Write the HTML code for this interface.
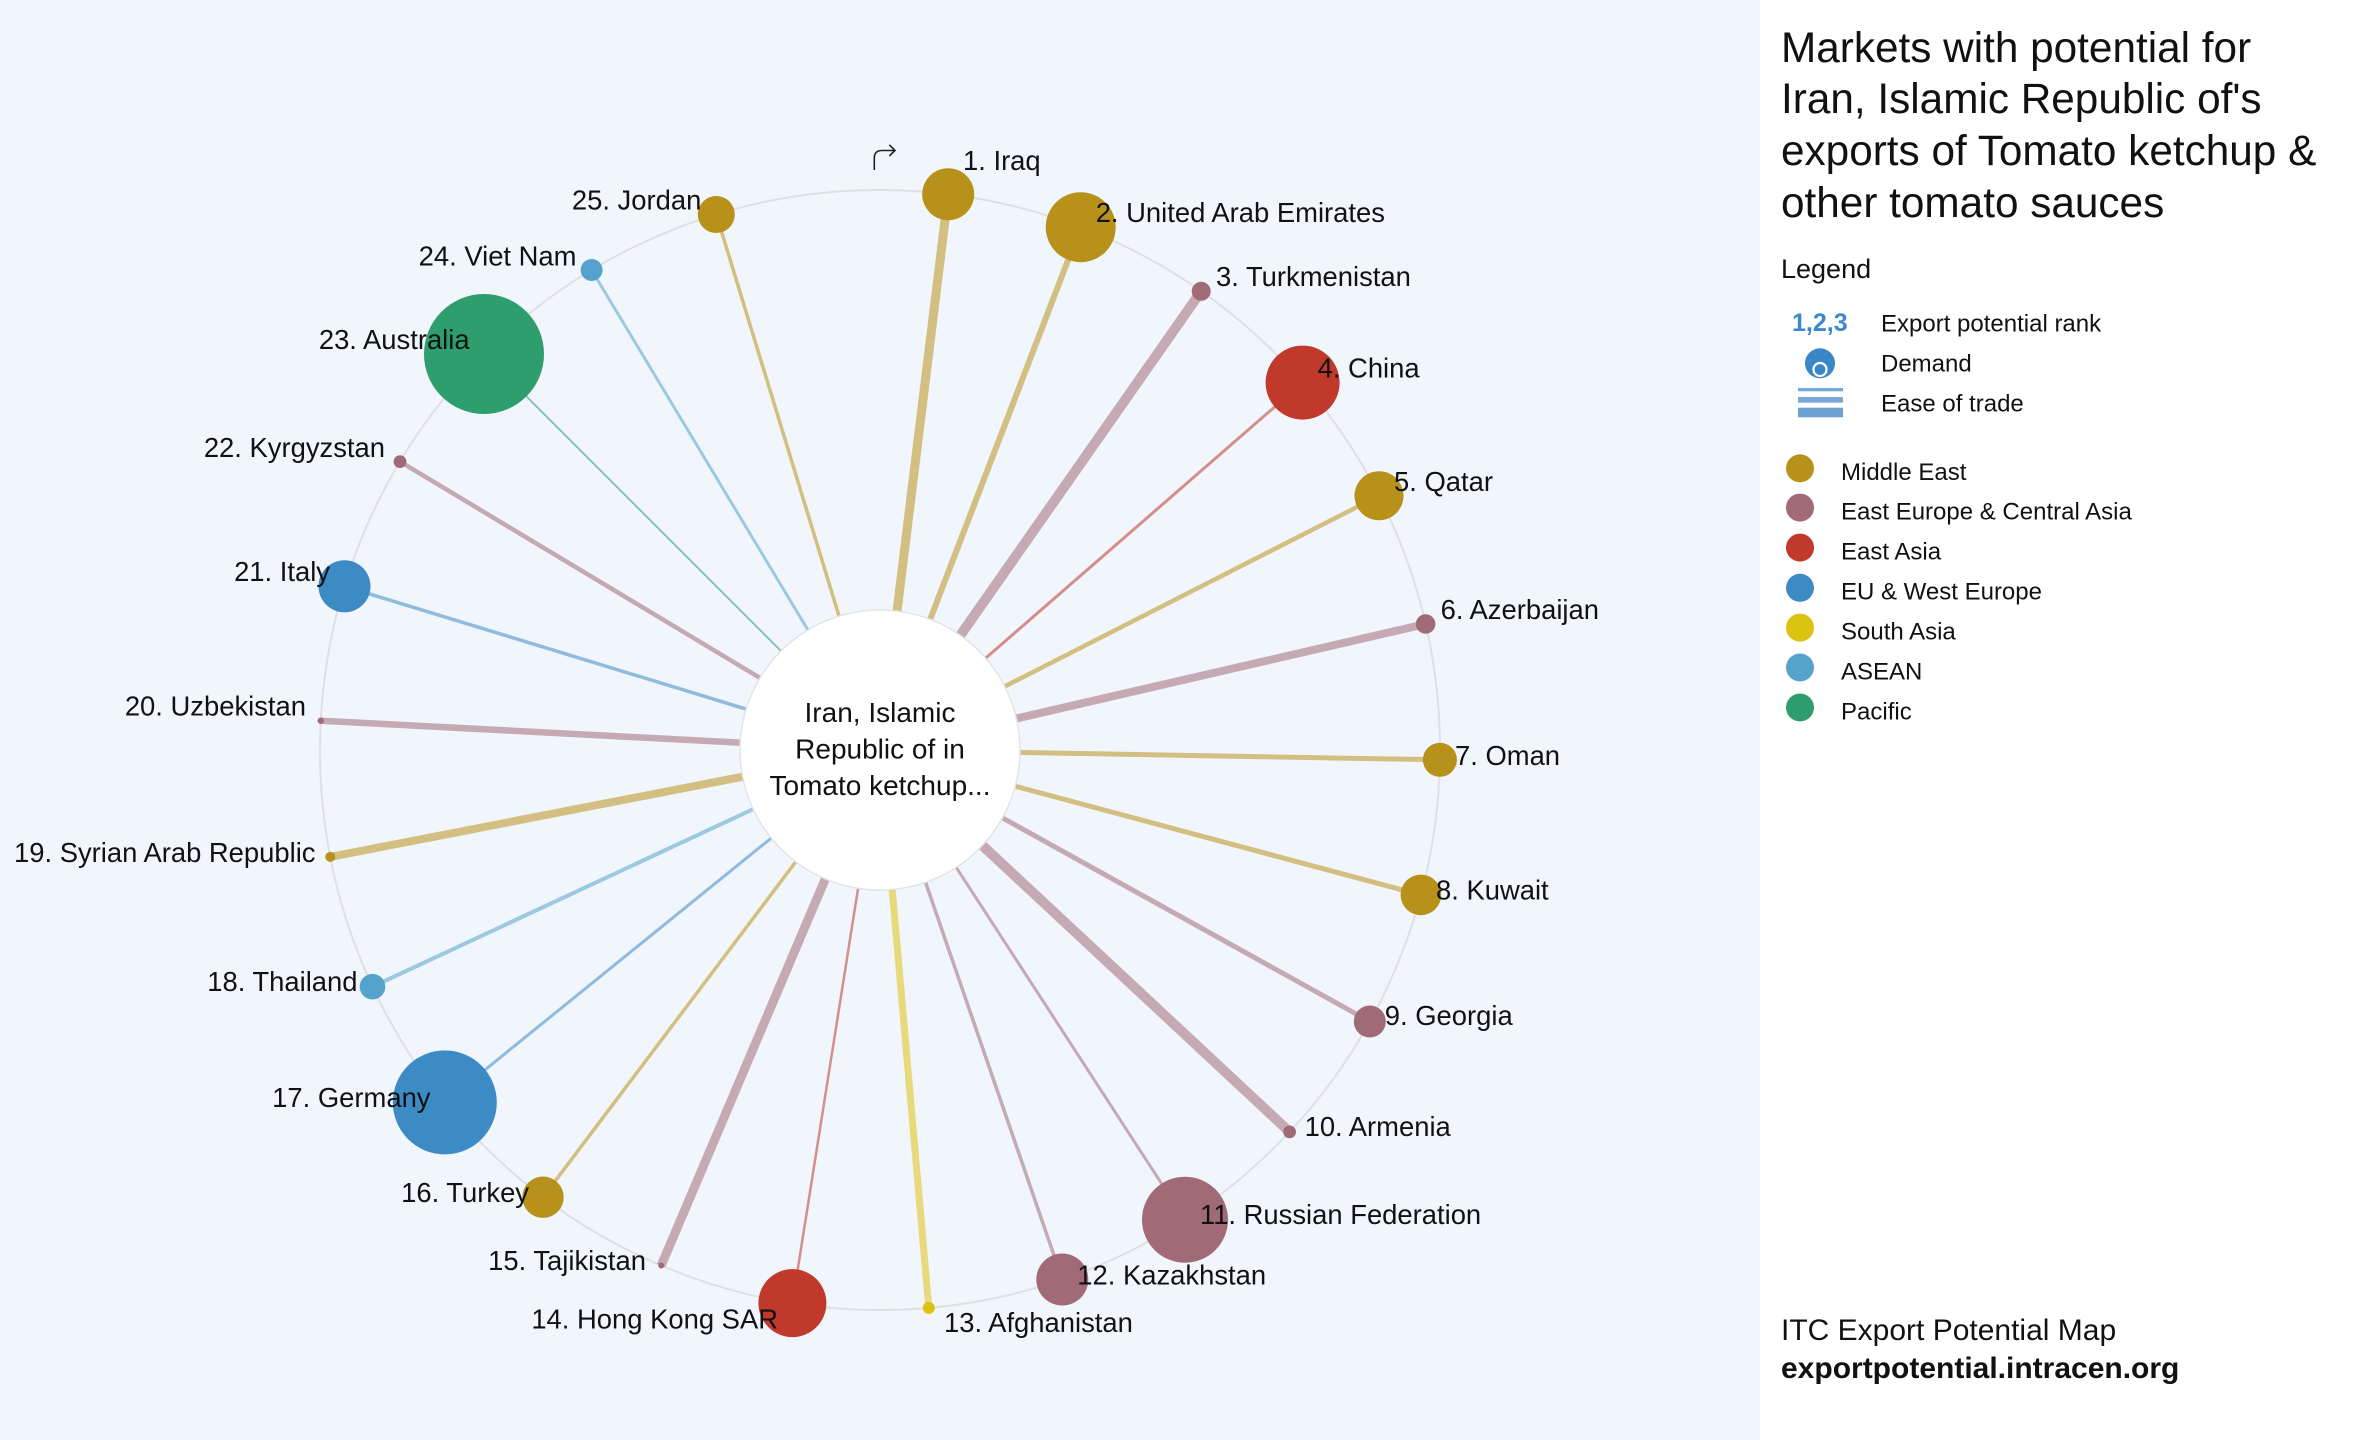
<!DOCTYPE html>
<html>
<head>
<meta charset="utf-8">
<style>
  html, body { margin:0; padding:0; width:2360px; height:1440px; overflow:hidden; background:#ffffff; }
  svg { display:block; }
  text { font-family: "Liberation Sans", "DejaVu Sans", sans-serif; }
</style>
</head>
<body>
<svg width="2360" height="1440" viewBox="0 0 2360 1440" xmlns="http://www.w3.org/2000/svg">
  <!-- backgrounds -->
  <rect x="0" y="0" width="1760" height="1440" fill="#f1f6fd"/>
  <rect x="1760" y="0" width="600" height="1440" fill="#ffffff"/>

  <!-- outer ring -->
  <circle cx="880" cy="750" r="560" fill="none" stroke="#e0e0e0" stroke-width="2"/>

  <!-- connectors -->
  <g stroke-linecap="butt" stroke-opacity="0.55">
    <line x1="880" y1="750" x2="948.2" y2="194.2" stroke="#b8911b" stroke-width="9"/>
    <line x1="880" y1="750" x2="1080.7" y2="227.2" stroke="#b8911b" stroke-width="6"/>
    <line x1="880" y1="750" x2="1201.2" y2="291.3" stroke="#a06a77" stroke-width="10"/>
    <line x1="880" y1="750" x2="1302.6" y2="382.6" stroke="#c0392b" stroke-width="3"/>
    <line x1="880" y1="750" x2="1379.0" y2="495.8" stroke="#b8911b" stroke-width="4.5"/>
    <line x1="880" y1="750" x2="1425.6" y2="624.0" stroke="#a06a77" stroke-width="8"/>
    <line x1="880" y1="750" x2="1439.9" y2="759.8" stroke="#b8911b" stroke-width="5"/>
    <line x1="880" y1="750" x2="1420.9" y2="894.9" stroke="#b8911b" stroke-width="5"/>
    <line x1="880" y1="750" x2="1369.8" y2="1021.5" stroke="#a06a77" stroke-width="5"/>
    <line x1="880" y1="750" x2="1289.6" y2="1131.9" stroke="#a06a77" stroke-width="10"/>
    <line x1="880" y1="750" x2="1185.0" y2="1219.7" stroke="#a06a77" stroke-width="3"/>
    <line x1="880" y1="750" x2="1062.3" y2="1279.5" stroke="#a06a77" stroke-width="3.5"/>
    <line x1="880" y1="750" x2="928.8" y2="1307.9" stroke="#dcc30f" stroke-width="7"/>
    <line x1="880" y1="750" x2="792.4" y2="1303.1" stroke="#c0392b" stroke-width="2.5"/>
    <line x1="880" y1="750" x2="661.2" y2="1265.5" stroke="#a06a77" stroke-width="9"/>
    <line x1="880" y1="750" x2="543.0" y2="1197.2" stroke="#b8911b" stroke-width="3.5"/>
    <line x1="880" y1="750" x2="444.8" y2="1102.4" stroke="#3d8bc4" stroke-width="3"/>
    <line x1="880" y1="750" x2="372.5" y2="986.7" stroke="#55a3cc" stroke-width="4"/>
    <line x1="880" y1="750" x2="330.3" y2="856.9" stroke="#b8911b" stroke-width="8"/>
    <line x1="880" y1="750" x2="320.8" y2="720.7" stroke="#a06a77" stroke-width="6.5"/>
    <line x1="880" y1="750" x2="344.5" y2="586.3" stroke="#3d8bc4" stroke-width="3.5"/>
    <line x1="880" y1="750" x2="400.0" y2="461.6" stroke="#a06a77" stroke-width="4.5"/>
    <line x1="880" y1="750" x2="484.0" y2="354.0" stroke="#2e9e6d" stroke-width="2"/>
    <line x1="880" y1="750" x2="591.6" y2="270.0" stroke="#55a3cc" stroke-width="3"/>
    <line x1="880" y1="750" x2="716.3" y2="214.5" stroke="#b8911b" stroke-width="3.5"/>
  </g>

  <!-- center circle -->
  <circle cx="880" cy="750" r="140" fill="#ffffff" stroke="#e4e4e4" stroke-width="1.5"/>
  <g font-size="28" fill="#111" text-anchor="middle">
    <text x="880" y="722">Iran, Islamic</text>
    <text x="880" y="758.5">Republic of in</text>
    <text x="880" y="795">Tomato ketchup...</text>
  </g>

  <!-- rotate icon -->
  <path d="M874.3,170 V158 Q874.3,150.5 882,150.5 H894.5" fill="none" stroke="#222" stroke-width="1.6"/>
  <path d="M889.3,144.8 L895,150.5 L889.3,156" fill="none" stroke="#222" stroke-width="1.6"/>

  <!-- nodes -->
  <g>
    <circle cx="948.2" cy="194.2" r="26" fill="#b8911b"/>
    <circle cx="1080.7" cy="227.2" r="35" fill="#b8911b"/>
    <circle cx="1201.2" cy="291.3" r="9.5" fill="#a06a77"/>
    <circle cx="1302.6" cy="382.6" r="37" fill="#c0392b"/>
    <circle cx="1379.0" cy="495.8" r="24.5" fill="#b8911b"/>
    <circle cx="1425.6" cy="624.0" r="9.8" fill="#a06a77"/>
    <circle cx="1439.9" cy="759.8" r="17" fill="#b8911b"/>
    <circle cx="1420.9" cy="894.9" r="20.3" fill="#b8911b"/>
    <circle cx="1369.8" cy="1021.5" r="16" fill="#a06a77"/>
    <circle cx="1289.6" cy="1131.9" r="6.4" fill="#a06a77"/>
    <circle cx="1185.0" cy="1219.7" r="43" fill="#a06a77"/>
    <circle cx="1062.3" cy="1279.5" r="26" fill="#a06a77"/>
    <circle cx="928.8" cy="1307.9" r="6" fill="#dcc30f"/>
    <circle cx="792.4" cy="1303.1" r="34" fill="#c0392b"/>
    <circle cx="661.2" cy="1265.5" r="3" fill="#a06a77"/>
    <circle cx="543.0" cy="1197.2" r="20.7" fill="#b8911b"/>
    <circle cx="444.8" cy="1102.4" r="52" fill="#3d8bc4"/>
    <circle cx="372.5" cy="986.7" r="12.8" fill="#55a3cc"/>
    <circle cx="330.3" cy="856.9" r="5" fill="#b8911b"/>
    <circle cx="320.8" cy="720.7" r="3.2" fill="#a06a77"/>
    <circle cx="344.5" cy="586.3" r="26" fill="#3d8bc4"/>
    <circle cx="400.0" cy="461.6" r="6.4" fill="#a06a77"/>
    <circle cx="484.0" cy="354.0" r="60" fill="#2e9e6d"/>
    <circle cx="591.6" cy="270.0" r="11" fill="#55a3cc"/>
    <circle cx="716.3" cy="214.5" r="18.5" fill="#b8911b"/>
  </g>

  <!-- labels right side -->
  <g font-size="27.4" fill="#111">
    <text x="963" y="170">1. Iraq</text>
    <text x="1095.7" y="222">2. United Arab Emirates</text>
    <text x="1216" y="286">3. Turkmenistan</text>
    <text x="1317.6" y="377.6">4. China</text>
    <text x="1394" y="490.8">5. Qatar</text>
    <text x="1440.6" y="619">6. Azerbaijan</text>
    <text x="1455" y="765">7. Oman</text>
    <text x="1436" y="899.5">8. Kuwait</text>
    <text x="1384.8" y="1025">9. Georgia</text>
    <text x="1304.6" y="1136">10. Armenia</text>
    <text x="1200" y="1224">11. Russian Federation</text>
    <text x="1077.3" y="1284.5">12. Kazakhstan</text>
    <text x="944" y="1332">13. Afghanistan</text>
  </g>
  <!-- labels left side -->
  <g font-size="27.4" fill="#111" text-anchor="end">
    <text x="778" y="1328.4">14. Hong Kong SAR</text>
    <text x="646" y="1270">15. Tajikistan</text>
    <text x="529" y="1202">16. Turkey</text>
    <text x="430.5" y="1107">17. Germany</text>
    <text x="357.5" y="991">18. Thailand</text>
    <text x="315.5" y="862">19. Syrian Arab Republic</text>
    <text x="306" y="715.7">20. Uzbekistan</text>
    <text x="330" y="581">21. Italy</text>
    <text x="385" y="457">22. Kyrgyzstan</text>
    <text x="469.6" y="349">23. Australia</text>
    <text x="576.5" y="265.5">24. Viet Nam</text>
    <text x="701.3" y="209.5">25. Jordan</text>
  </g>

  <!-- Title -->
  <g font-size="42.3" fill="#111">
    <text x="1781" y="62">Markets with potential for</text>
    <text x="1781" y="113">Iran, Islamic Republic of's</text>
    <text x="1781" y="165">exports of Tomato ketchup &amp;</text>
    <text x="1781" y="217">other tomato sauces</text>
  </g>

  <!-- Legend -->
  <text x="1781" y="278" font-size="27" fill="#111">Legend</text>
  <text x="1792" y="331" font-size="25" font-weight="bold" fill="#3b88cc">1,2,3</text>
  <g font-size="24" fill="#111">
    <text x="1881" y="331.5">Export potential rank</text>
    <text x="1881" y="371.7">Demand</text>
    <text x="1881" y="411.7">Ease of trade</text>
  </g>
  <!-- demand icon -->
  <circle cx="1820" cy="363.3" r="15" fill="#3a87c8"/>
  <circle cx="1820" cy="369.5" r="6.5" fill="#3a87c8" stroke="#ffffff" stroke-width="2.2"/>
  <!-- ease of trade icon -->
  <rect x="1798" y="388" width="45" height="3.3" fill="#78a8d6"/>
  <rect x="1798" y="397" width="45" height="5.7" fill="#78a8d6"/>
  <rect x="1798" y="407.7" width="45" height="9.6" fill="#6fa2d4"/>

  <!-- region legend -->
  <circle cx="1800" cy="468.3" r="14" fill="#b8911b"/>
  <circle cx="1800" cy="507.6" r="14" fill="#a06a77"/>
  <circle cx="1800" cy="547.6" r="14" fill="#c0392b"/>
  <circle cx="1800" cy="587.8" r="14" fill="#3d8bc4"/>
  <circle cx="1800" cy="627.6" r="14" fill="#dcc30f"/>
  <circle cx="1800" cy="667.5" r="14" fill="#55a3cc"/>
  <circle cx="1800" cy="707.5" r="14" fill="#2e9e6d"/>
  <g font-size="24" fill="#111">
    <text x="1841" y="480">Middle East</text>
    <text x="1841" y="519.5">East Europe &amp; Central Asia</text>
    <text x="1841" y="559.5">East Asia</text>
    <text x="1841" y="599.7">EU &amp; West Europe</text>
    <text x="1841" y="639.5">South Asia</text>
    <text x="1841" y="679.4">ASEAN</text>
    <text x="1841" y="719.4">Pacific</text>
  </g>

  <!-- footer -->
  <text x="1781" y="1340" font-size="30" fill="#111">ITC Export Potential Map</text>
  <text x="1781" y="1378" font-size="30" font-weight="bold" fill="#111">exportpotential.intracen.org</text>
</svg>
</body>
</html>
